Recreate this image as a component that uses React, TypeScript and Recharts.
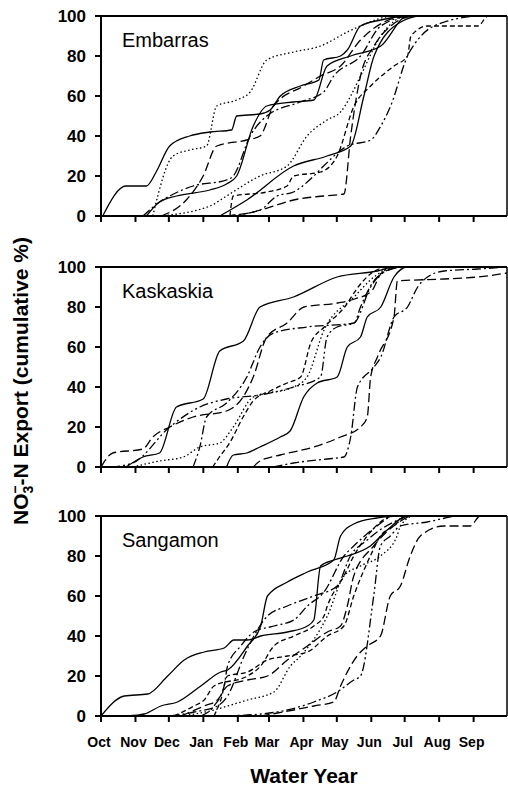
import React from 'react';
import { LineChart, Line, XAxis, YAxis, ReferenceLine } from 'recharts';

type Pt = [number, number];

const FONT = '"Liberation Sans", Arial, Helvetica, sans-serif';

const MONTHS = ['Oct', 'Nov', 'Dec', 'Jan', 'Feb', 'Mar', 'Apr', 'May', 'Jun', 'Jul', 'Aug', 'Sep'];
// day of water year (from 1 Oct) at which each month starts
const MONTH_START_DAYS = [0, 31, 61, 92, 123, 151, 182, 212, 243, 273, 304, 335];
const YEAR_DAYS = 365;
const Y_TICKS = [0, 20, 40, 60, 80, 100];
const PANEL_NAMES = ['Embarras', 'Kaskaskia', 'Sangamon'];

// x = time since 1 Oct in average-month units (365/12 days), y = cumulative % of annual NO3-N export
const emb1: Pt[] = [[0.05, 0], [0.74, 15], [1.34, 15], [1.63, 22], [2.03, 35], [2.62, 40], [3.22, 42], [3.86, 43], [4.01, 50], [4.7, 51], [5.0, 53], [5.3, 60], [5.89, 65], [6.44, 68], [6.58, 78], [7.08, 80], [7.28, 83], [7.67, 95], [8.27, 98], [9.06, 100]];
const emb2: Pt[] = [[1.53, 0], [2.13, 30], [2.62, 33], [3.12, 35], [3.42, 55], [4.01, 58], [4.41, 62], [4.9, 78], [5.69, 82], [6.49, 85], [7.28, 92], [7.67, 95], [8.66, 100]];
const emb3: Pt[] = [[1.78, 0], [2.52, 8], [3.02, 20], [3.42, 35], [4.31, 38], [4.7, 40], [5.1, 55], [5.99, 65], [6.49, 70], [7.08, 75], [7.67, 88], [9.06, 100]];
const emb4: Pt[] = [[1.24, 0], [1.73, 7], [2.03, 10], [2.72, 15], [3.71, 18], [3.91, 20], [4.41, 40], [4.9, 50], [5.89, 57], [6.58, 62], [6.88, 70], [7.67, 80], [8.27, 95], [9.16, 100]];
const emb5: Pt[] = [[1.34, 0], [1.73, 7], [2.23, 10], [3.22, 13], [3.71, 16], [4.01, 20], [4.5, 45], [4.9, 55], [5.69, 57], [6.29, 58], [6.68, 75], [7.38, 80], [8.27, 85], [9.06, 100]];
const emb6: Pt[] = [[3.71, 0], [4.5, 2], [5.1, 5], [5.69, 8], [6.58, 10], [7.18, 11], [7.38, 40], [7.67, 70], [8.07, 85], [8.56, 95], [9.26, 100]];
const emb7: Pt[] = [[3.71, 0], [4.7, 3], [5.2, 10], [5.69, 12], [6.29, 20], [6.58, 25], [7.28, 35], [7.97, 38], [8.27, 45], [8.56, 55], [9.06, 80], [9.46, 90], [10.15, 97], [11.24, 100]];
const emb8: Pt[] = [[3.51, 0], [4.31, 8], [5.69, 25], [6.68, 30], [7.38, 35], [7.77, 60], [8.07, 80], [8.86, 97], [9.46, 100]];
const emb9: Pt[] = [[3.81, 0], [3.91, 10], [4.9, 12], [5.5, 15], [5.69, 20], [6.49, 22], [6.98, 30], [7.48, 55], [7.97, 65], [8.66, 75], [9.06, 80], [9.16, 90], [9.65, 95], [11.14, 95], [11.44, 100]];
const emb10: Pt[] = [[1.73, 0], [3.22, 5], [3.71, 10], [4.7, 20], [5.5, 25], [6.09, 40], [6.68, 48], [7.08, 52], [7.38, 60], [7.67, 70], [8.27, 90], [9.06, 100]];

const kas1: Pt[] = [[0.74, 0], [1.24, 5], [1.73, 7], [2.23, 30], [3.02, 34], [3.51, 58], [4.21, 63], [4.7, 80], [5.69, 85], [6.98, 95], [8.17, 98], [8.66, 100]];
const kas2: Pt[] = [[0, 0], [0.35, 7], [1.24, 9], [1.53, 15], [2.03, 20], [2.72, 25], [3.71, 28], [4.2, 35], [4.5, 45], [4.9, 65], [5.5, 72], [6.0, 80], [7.0, 82], [7.5, 84], [8.0, 88], [8.3, 97], [9.0, 100]];
const kas3: Pt[] = [[0.3, 0], [0.94, 2], [2.03, 20], [2.92, 30], [3.71, 34], [4.7, 36], [5.69, 40], [6.49, 45], [6.68, 65], [6.98, 70], [7.48, 72], [7.97, 90], [8.66, 100]];
const kas4: Pt[] = [[0.94, 0], [1.73, 3], [2.43, 5], [2.92, 10], [3.51, 12], [3.91, 20], [4.5, 35], [5.69, 40], [6.09, 45], [6.58, 68], [7.48, 85], [8.07, 95], [8.66, 100]];
const kas5: Pt[] = [[2.72, 0], [2.92, 10], [3.12, 25], [3.71, 32], [4.31, 45], [4.7, 60], [5.1, 67], [6.09, 70], [7.48, 72], [7.67, 80], [8.17, 95], [8.86, 100]];
const kas6: Pt[] = [[3.71, 0], [3.91, 6], [4.31, 7], [4.7, 10], [5.3, 15], [5.59, 18], [5.99, 35], [6.39, 42], [6.98, 45], [7.28, 60], [7.67, 65], [7.87, 75], [8.27, 80], [8.66, 95], [9.06, 100]];
const kas7: Pt[] = [[4.5, 0], [4.7, 3], [5.3, 6], [6.29, 10], [7.08, 15], [7.67, 20], [7.87, 25], [7.97, 45], [8.17, 55], [8.66, 75], [8.76, 93], [10.15, 94], [11.14, 95], [12, 97]];
const kas8: Pt[] = [[5.1, 0], [5.69, 2], [6.68, 4], [7.18, 5], [7.38, 15], [7.58, 40], [8.07, 50], [8.27, 55], [8.66, 75], [9.06, 80], [9.36, 90], [9.65, 95], [10.15, 98], [11.14, 99], [12, 100]];
const kas9: Pt[] = [[3.3, 0], [3.5, 5], [3.8, 12], [4.2, 25], [4.5, 33], [5.0, 38], [5.5, 42], [5.9, 45], [6.2, 62], [6.6, 70], [7.2, 80], [7.6, 90], [8.0, 97], [8.5, 100]];

const san1: Pt[] = [[0, 0], [0.69, 10], [1.38, 11], [1.97, 20], [2.46, 28], [3.05, 32], [3.64, 34], [3.93, 38], [4.33, 38], [4.72, 40], [5.51, 42], [6.1, 45], [6.29, 48], [6.49, 75], [6.88, 78], [7.28, 80], [7.96, 85], [8.46, 93], [9.05, 100]];
const san2: Pt[] = [[0.79, 0], [1.28, 1], [1.77, 5], [2.26, 7], [2.95, 15], [3.54, 22], [3.74, 23], [4.33, 35], [4.72, 45], [4.92, 60], [5.51, 67], [6.1, 72], [6.88, 78], [7.08, 90], [7.47, 96], [8.16, 99], [8.65, 100]];
const san3: Pt[] = [[2.06, 0], [2.75, 2], [3.44, 5], [3.74, 10], [4.23, 30], [4.52, 40], [4.92, 50], [5.51, 55], [6.29, 60], [6.98, 65], [7.37, 80], [7.87, 88], [8.16, 92], [8.65, 97], [9.14, 100]];
const san4: Pt[] = [[2.36, 0], [3.05, 5], [3.44, 8], [3.74, 15], [4.33, 18], [4.92, 20], [5.51, 28], [6.1, 35], [6.69, 42], [7.08, 45], [7.28, 55], [7.47, 70], [8.06, 85], [8.65, 95], [9.24, 100]];
const san5: Pt[] = [[2.36, 0], [3.34, 3], [3.74, 5], [4.33, 8], [5.11, 12], [5.6, 25], [5.9, 30], [6.69, 50], [7.18, 70], [7.67, 75], [8.26, 80], [8.75, 90], [8.85, 95], [9.24, 100]];
const san6: Pt[] = [[3.34, 0], [3.54, 8], [3.74, 20], [4.33, 22], [4.92, 28], [5.51, 30], [6.1, 32], [6.69, 40], [7.18, 45], [7.47, 60], [7.96, 80], [8.26, 90], [8.65, 95], [9.05, 100]];
const san7: Pt[] = [[3.54, 0], [4.72, 1], [5.51, 3], [6.29, 7], [6.98, 12], [7.47, 18], [7.67, 20], [8.06, 60], [8.26, 85], [8.55, 90], [8.85, 95], [9.64, 97], [10.62, 100]];
const san8: Pt[] = [[4.72, 0], [5.7, 3], [6.29, 5], [6.88, 7], [7.08, 15], [7.57, 30], [7.87, 35], [8.26, 40], [8.55, 60], [8.85, 65], [9.14, 80], [9.44, 90], [10.13, 95], [10.91, 95], [11.21, 100]];
const san9: Pt[] = [[2.95, 0], [3.34, 5], [3.64, 15], [3.74, 25], [4.13, 35], [4.52, 42], [5.11, 45], [5.7, 48], [6.1, 55], [6.59, 62], [7.18, 80], [7.47, 85], [8.16, 95], [8.65, 100]];
const san10: Pt[] = [[2.16, 0], [2.75, 5], [3.05, 8], [3.34, 15], [4.33, 20], [4.72, 25], [5.11, 35], [5.7, 40], [6.29, 45], [6.59, 50], [6.69, 55], [7.18, 70], [7.47, 80], [7.87, 90], [8.65, 100]];

const DASH: Record<string, string | undefined> = {
  solid: undefined,
  long: '9 4',
  dash: '5 3',
  dashdot: '9 3 2 3',
  dashdotdot: '9 3 2 3 2 3',
  dot: '1.5 2.5',
};

const EMB = [emb1, emb2, emb3, emb4, emb5, emb6, emb7, emb8, emb9, emb10];
const EMB_STYLE = ['solid', 'dot', 'long', 'dashdot', 'solid', 'long', 'dashdotdot', 'solid', 'dash', 'dot'];
const KAS = [kas1, kas2, kas3, kas4, kas5, kas6, kas7, kas8, kas9];
const KAS_STYLE = ['solid', 'long', 'dashdotdot', 'dot', 'dashdot', 'solid', 'long', 'dashdot', 'dash'];
const SAN = [san1, san2, san3, san4, san5, san6, san7, san8, san9, san10];
const SAN_STYLE = ['solid', 'solid', 'dashdot', 'long', 'dot', 'dash', 'dashdotdot', 'long', 'dashdot', 'dash'];

const MONTH_UNIT = YEAR_DAYS / 12;

const toData = (arr: Pt[]) => {
  const d = arr.map(([m, v]) => ({ day: m * MONTH_UNIT, v }));
  const last = arr[arr.length - 1];
  if (last[0] < 12) d.push({ day: YEAR_DAYS, v: last[1] });
  return d;
};

const PLOT_H = 200;
const TOP_PAD = 10;

function Panel({ top, series, styles, showLabels }: { top: number; series: Pt[][]; styles: string[]; showLabels: boolean }) {
  const xh = showLabels ? 40 : 10;
  const h = TOP_PAD + PLOT_H + xh;
  return (
    <div style={{ position: 'absolute', left: 0, top: top - TOP_PAD }}>
      <LineChart width={508} height={h} margin={{ top: TOP_PAD, right: 1, left: 0, bottom: 0 }}>
        <XAxis
          type="number"
          dataKey="day"
          domain={[0, YEAR_DAYS]}
          ticks={MONTH_START_DAYS}
          interval={0}
          allowDuplicatedCategory={false}
          height={xh}
          tickSize={6}
          tickMargin={15}
          stroke="#000"
          strokeWidth={2}
          tickFormatter={(v: number) => (showLabels ? MONTHS[MONTH_START_DAYS.indexOf(v)] : '')}
          tick={{ fill: '#000', fontSize: 14, fontWeight: 'bold', fontFamily: FONT, dx: -2 }}
        />
        <YAxis
          type="number"
          dataKey="v"
          domain={[0, 100]}
          ticks={Y_TICKS}
          interval={0}
          width={101}
          tickSize={6}
          tickMargin={9}
          stroke="#000"
          strokeWidth={2}
          tick={{ fill: '#000', fontSize: 17, fontWeight: 'bold', fontFamily: FONT }}
        />
        <ReferenceLine y={100} stroke="#000" strokeWidth={2} />
        <ReferenceLine x={YEAR_DAYS} stroke="#000" strokeWidth={1.5} />
        {series.map((s, i) => (
          <Line
            key={i}
            data={toData(s)}
            dataKey="v"
            type="monotone"
            stroke="#000"
            strokeWidth={1.3}
            strokeDasharray={DASH[styles[i]]}
            dot={false}
            activeDot={false}
            isAnimationActive={false}
          />
        ))}
      </LineChart>
    </div>
  );
}

export default function App() {
  const panelTops = [16, 267, 516];
  return (
    <div style={{ position: 'absolute', left: 0, top: 0, width: 508, height: 787, background: '#fff', overflow: 'hidden' }}>
      <Panel top={panelTops[0]} series={EMB} styles={EMB_STYLE} showLabels={false} />
      <Panel top={panelTops[1]} series={KAS} styles={KAS_STYLE} showLabels={false} />
      <Panel top={panelTops[2]} series={SAN} styles={SAN_STYLE} showLabels={true} />
      <svg width={508} height={787} style={{ position: 'absolute', left: 0, top: 0, pointerEvents: 'none' }}>
        {PANEL_NAMES.map((n, i) => (
          <text key={n} x={122} y={panelTops[i] + 31} fontFamily={FONT} fontSize={20} fill="#000">
            {n}
          </text>
        ))}
        <text x={304} y={783} textAnchor="middle" fontFamily={FONT} fontSize={21} fontWeight="bold" fill="#000">
          Water Year
        </text>
        <text transform="translate(28,381) rotate(-90)" textAnchor="middle" fontFamily={FONT} fontSize={21} fontWeight="bold" fill="#000">
          NO
          <tspan dy={5} fontSize={14}>3</tspan>
          <tspan dx={-8} dy={-13} fontSize={14}>−</tspan>
          <tspan dy={8}>-N Export (cumulative %)</tspan>
        </text>
      </svg>
    </div>
  );
}
